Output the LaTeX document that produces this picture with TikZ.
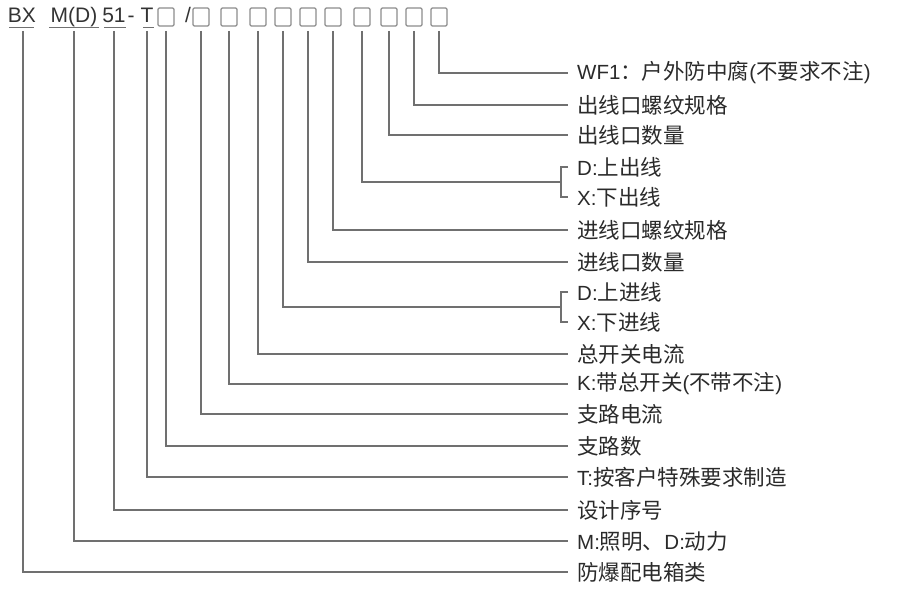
\documentclass[tikz,border=0pt]{standalone}
\usepackage{fontspec}
\setmainfont{Liberation Sans}
\newfontfamily\cjk{Noto Sans CJK SC}
\newcommand\zh[1]{{\cjk\fontsize{21.5}{24}\selectfont #1}}
\definecolor{txtc}{HTML}{2A2A2A}
\definecolor{hdrc}{HTML}{333333}
\definecolor{linec}{HTML}{707070}
\definecolor{boxc}{HTML}{8C8C8C}
\begin{document}
\begin{tikzpicture}[x=1pt,y=-1pt,
  lbl/.style={anchor=west,inner sep=0pt,text=txtc,font=\fontsize{20.5}{24}\selectfont},
  hdr/.style={anchor=base,inner sep=0pt,text=hdrc,font=\fontsize{21}{24}\selectfont},
  codebox/.style={draw=boxc,line width=1.3pt,minimum width=16pt,minimum height=18pt,inner sep=0pt,rounded corners=1.2pt},
  con/.style={draw=linec,line width=1.4pt},
  uline/.style={draw=linec,line width=1.1pt}]
\useasboundingbox (0,0) rectangle (906,594);
% header
\node[hdr] (bx) at (22,23) {BX};
\node[hdr] (md) at (74,23) {M(D)};
\node[hdr] (n51) at (114,23) {51};
\node[hdr] (hy) at (131,23) {-};
\node[hdr] (tt) at (147,23) {T};
\node[hdr] (sl) at (188,23) {/};
\node[codebox] (b1) at (166,17) {};
\node[codebox] (b2) at (201,17) {};
\node[codebox] (b3) at (229,17) {};
\node[codebox] (b4) at (258,17) {};
\node[codebox] (b5) at (283,17) {};
\node[codebox] (b6) at (308,17) {};
\node[codebox] (b7) at (333,17) {};
\node[codebox] (b8) at (362,17) {};
\node[codebox] (b9) at (389,17) {};
\node[codebox] (b10) at (414,17) {};
\node[codebox] (b11) at (439,17) {};
% underlines
\draw[uline] (9,27.5) -- (34,27.5);
\draw[uline] (49,27.5) -- (99,27.5);
\draw[uline] (104,27.5) -- (126,27.5);
\draw[uline] (143,27.5) -- (154,27.5);
% labels
\node[lbl] (wf) at (577,73) {WF1\zh{：户外防中腐}(\zh{不要求不注})};
\node[lbl] (oth) at (577,105) {\zh{出线口螺纹规格}};
\node[lbl] (onum) at (577,135) {\zh{出线口数量}};
\node[lbl] (dout) at (577,167) {D:\zh{上出线}};
\node[lbl] (xout) at (577,197) {X:\zh{下出线}};
\node[lbl] (ith) at (577,230) {\zh{进线口螺纹规格}};
\node[lbl] (inum) at (577,262) {\zh{进线口数量}};
\node[lbl] (din) at (577,292) {D:\zh{上进线}};
\node[lbl] (xin) at (577,322) {X:\zh{下进线}};
\node[lbl] (mcur) at (577,354) {\zh{总开关电流}};
\node[lbl] (ksw) at (577,384) {K:\zh{带总开关}(\zh{不带不注})};
\node[lbl] (bcur) at (577,414) {\zh{支路电流}};
\node[lbl] (bnum) at (577,446) {\zh{支路数}};
\node[lbl] (tsp) at (577,477) {T:\zh{按客户特殊要求制造}};
\node[lbl] (dsn) at (577,510) {\zh{设计序号}};
\node[lbl] (mdl) at (577,541) {M:\zh{照明、}D:\zh{动力}};
\node[lbl] (cls) at (577,572) {\zh{防爆配电箱类}};
% bracket coordinates
\coordinate (bo) at (561,182);
\coordinate (bi) at (561,307);
% connectors
\draw[con] (439,31) |- ([xshift=-9pt]wf.west);
\draw[con] (414,31) |- ([xshift=-9pt]oth.west);
\draw[con] (389,31) |- ([xshift=-9pt]onum.west);
\draw[con] (362,31) |- (bo);
\draw[con] ([xshift=-9pt]dout.west) -| (bo) |- ([xshift=-9pt]xout.west);
\draw[con] (333,31) |- ([xshift=-9pt]ith.west);
\draw[con] (308,31) |- ([xshift=-9pt]inum.west);
\draw[con] (283,31) |- (bi);
\draw[con] ([xshift=-9pt]din.west) -| (bi) |- ([xshift=-9pt]xin.west);
\draw[con] (258,31) |- ([xshift=-9pt]mcur.west);
\draw[con] (229,31) |- ([xshift=-9pt]ksw.west);
\draw[con] (201,31) |- ([xshift=-9pt]bcur.west);
\draw[con] (166,31) |- ([xshift=-9pt]bnum.west);
\draw[con] (147,31) |- ([xshift=-9pt]tsp.west);
\draw[con] (114,31) |- ([xshift=-9pt]dsn.west);
\draw[con] (74,31) |- ([xshift=-9pt]mdl.west);
\draw[con] (23,31) |- ([xshift=-9pt]cls.west);
\end{tikzpicture}
\end{document}
